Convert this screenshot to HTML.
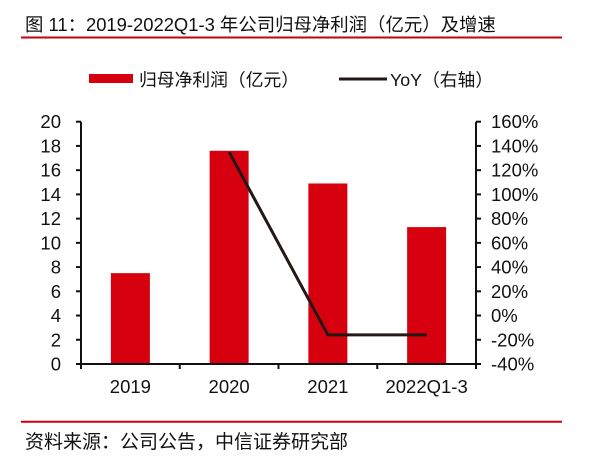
<!DOCTYPE html>
<html><head><meta charset="utf-8">
<style>
body{margin:0;background:#fff;}
svg{display:block;font-family:"Liberation Sans","Noto Sans CJK SC",sans-serif;}
</style></head>
<body>
<svg id="chart" width="603" height="468" viewBox="0 0 603 468" xmlns="http://www.w3.org/2000/svg">
<text x="25" y="31" font-size="18.4" fill="#111">图 11：2019-2022Q1-3 年公司归母净利润（亿元）及增速</text>
<line x1="21" y1="37.5" x2="562" y2="37.5" stroke="#c8000b" stroke-width="2"/>
<rect x="89" y="74" width="44" height="9" fill="#d7000f"/>
<text x="139" y="86" font-size="17.8" fill="#111">归母净利润（亿元）</text>
<line x1="339" y1="79" x2="387" y2="79" stroke="#231815" stroke-width="3"/>
<text x="390" y="86" font-size="17.8" fill="#111">YoY（右轴）</text>
<g id="plot"></g>
<line x1="21" y1="421.7" x2="562" y2="421.7" stroke="#c8000b" stroke-width="2"/>
<text x="25" y="448" font-size="19" fill="#111">资料来源：公司公告，中信证券研究部</text>
</svg>
<script>
const categories = ["2019","2020","2021","2022Q1-3"];
const profitValues = [7.5, 17.6, 14.9, 11.3];
const yoyValues = [null, 135, -16, -16];
const leftTicks = [0,2,4,6,8,10,12,14,16,18,20];
const rightTicks = [-40,-20,0,20,40,60,80,100,120,140,160];

const NS="http://www.w3.org/2000/svg";
const g=document.getElementById('plot');
const X0=81,X1=476,Y0=364,Y1=121.7;
const yL=v=>Y0-(v-0)/(20-0)*(Y0-Y1);
const yR=v=>Y0-(v+40)/(200)*(Y0-Y1);
const band=(X1-X0)/categories.length;
const xC=i=>X0+band*(i+0.5);
function mk(tag,attrs){const e=document.createElementNS(NS,tag);for(const k in attrs)e.setAttribute(k,attrs[k]);g.appendChild(e);return e;}

profitValues.forEach((v,i)=>{
  const r=mk('rect',{x:xC(i)-19.5,y:yL(v),width:39,height:Y0-yL(v),fill:'#d7000f'});
  
  
});
let pts=[];
yoyValues.forEach((v,i)=>{if(v!==null)pts.push(xC(i)+','+yR(v));});
const pl=mk('polyline',{points:pts.join(' '),fill:'none',stroke:'#231815','stroke-width':3,'stroke-linejoin':'round'});



const la=mk('line',{x1:X0,y1:Y1,x2:X0,y2:Y0,stroke:'#111','stroke-width':2});


const ra=mk('line',{x1:X1,y1:Y1,x2:X1,y2:Y0,stroke:'#111','stroke-width':2});


const xa=mk('line',{x1:X0,y1:Y0,x2:X1,y2:Y0,stroke:'#111','stroke-width':2});



leftTicks.forEach(t=>{
  mk('line',{x1:X0-5,y1:yL(t),x2:X0,y2:yL(t),stroke:'#111','stroke-width':2});
  const tx=mk('text',{x:61,y:yL(t)+6.5,'font-size':18.5,'text-anchor':'end',fill:'#111'});
  tx.textContent=t;
  
  
});
rightTicks.forEach(t=>{
  mk('line',{x1:X1,y1:yR(t),x2:X1+5,y2:yR(t),stroke:'#111','stroke-width':2});
  const tx=mk('text',{x:491,y:yR(t)+6.5,'font-size':18.5,fill:'#111'});
  tx.textContent=t+'%';
  
  
});
for(let i=0;i<=categories.length;i++){
  mk('line',{x1:X0+band*i,y1:Y0,x2:X0+band*i,y2:Y0+5,stroke:'#111','stroke-width':2});
}
categories.forEach((c,i)=>{
  const tx=mk('text',{x:xC(i),y:393,'font-size':18.5,'text-anchor':'middle',fill:'#111'});
  tx.textContent=c;
  
  
});
</script>
</body></html>
